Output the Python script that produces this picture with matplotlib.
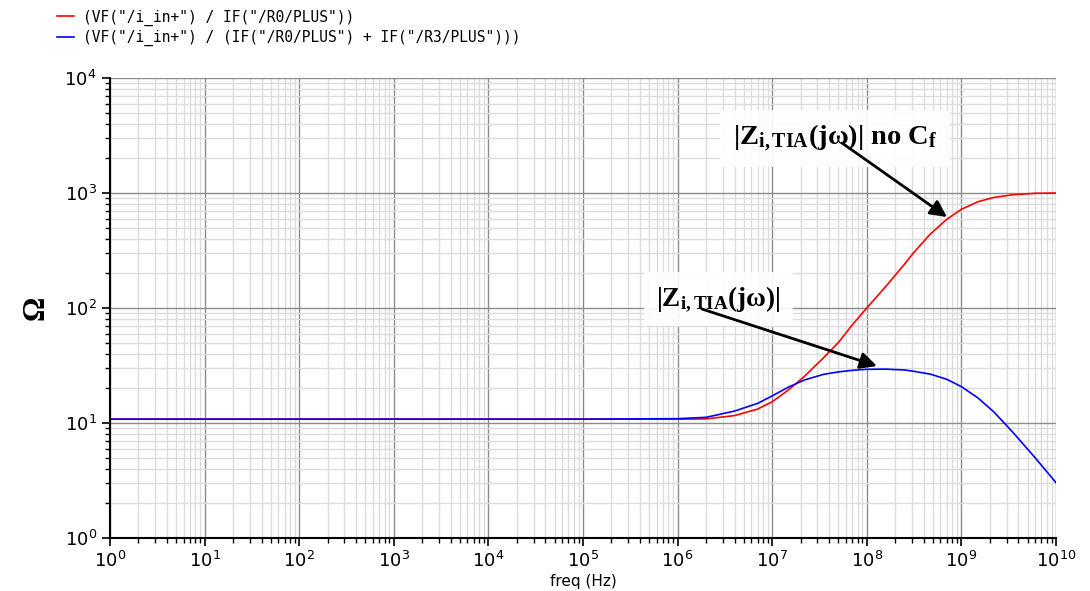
import numpy as np
import matplotlib
matplotlib.use("Agg")
import matplotlib.pyplot as plt

# serif bold for the curve annotations (used through math_fontfamily='custom')
plt.rcParams['mathtext.fontset'] = 'custom'
plt.rcParams['mathtext.rm'] = 'Liberation Serif'
plt.rcParams['mathtext.it'] = 'Liberation Serif:italic'
plt.rcParams['mathtext.bf'] = 'Liberation Serif:bold'

# AC sweep samples (Hz) and input impedance magnitudes (Ohm)
freq = [1e0, 1e5, 1e6, 2e6, 4e6, 7e6, 1e7, 1.5e7, 2.2e7, 3.5e7, 5e7, 7e7,
        1e8, 1.6e8, 2.5e8, 3.1e8, 4.7e8, 7e8, 1e9, 1.5e9, 2.2e9, 3.5e9, 6e9, 1e10]
z_no_cf = [10.8, 10.8, 10.8, 10.85, 11.6, 13.2, 15.3, 19.5, 25.5, 37, 50, 71,
           100, 155, 240, 300, 440, 590, 722, 840, 915, 966, 994, 1000]
z_tia = [10.8, 10.8, 10.9, 11.2, 12.7, 14.8, 17.2, 20.6, 23.7, 26.5, 27.8, 28.7,
         29.3, 29.4, 28.9, 28.2, 26.6, 24.0, 20.7, 16.5, 12.5, 8.3, 5.0, 3.03]

label_no_cf = '(VF("/i_in+") / IF("/R0/PLUS"))'
label_tia = '(VF("/i_in+") / (IF("/R0/PLUS") + IF("/R3/PLUS")))'

fig = plt.figure(figsize=(10.9, 5.91), dpi=100)
ax = fig.add_axes([0.1009, 0.0897, 0.8679, 0.7783])

ax.plot(freq, z_no_cf, color='#ff0000', linewidth=1.2, label=label_no_cf)
ax.plot(freq, z_tia, color='#0000ff', linewidth=1.2, label=label_tia)

ax.set_xscale('log')
ax.set_yscale('log')
ax.set_xlim(1e0, 1e10)
ax.set_ylim(1e0, 1e4)
ax.xaxis.set_major_locator(matplotlib.ticker.LogLocator(base=10, numticks=12))
ax.xaxis.set_minor_locator(matplotlib.ticker.LogLocator(base=10, subs=np.arange(2, 10), numticks=12))
ax.xaxis.set_minor_formatter(matplotlib.ticker.NullFormatter())
ax.yaxis.set_minor_formatter(matplotlib.ticker.NullFormatter())

ax.grid(True, which='major', color='#8c8c8c', linewidth=1.0)
ax.grid(True, which='minor', color='#dcdcdc', linewidth=1.0)
ax.set_axisbelow(True)

for side in ['top', 'right']:
    ax.spines[side].set_visible(False)
for side in ['left', 'bottom']:
    ax.spines[side].set_linewidth(1.5)

ax.tick_params(which='major', direction='out', length=6, width=1.2, labelsize=13)
ax.tick_params(which='minor', direction='out', length=3.5, width=1.0)

ax.set_xlabel('freq (Hz)', fontsize=11, labelpad=2)
ax.set_ylabel('Ω', fontfamily='Liberation Serif', fontweight='bold', fontsize=22, labelpad=10)

# curve labels with arrows
txt_box = dict(boxstyle='square,pad=0.45', facecolor='white', edgecolor='none', alpha=0.9)
ax.text(4.6e7, 3000, r'$\mathbf{|Z_{i,TIA}(jω)|\ no\ C_f}$', math_fontfamily='custom',
        fontsize=20.5, ha='center', va='center', bbox=txt_box, zorder=4)
ax.text(2.7e6, 120, r'$\mathbf{|Z_{i,TIA}(jω)|}$', math_fontfamily='custom',
        fontsize=19.5, ha='center', va='center', bbox=txt_box, zorder=4)

arrow = dict(arrowstyle='-|>', color='black', linewidth=2, mutation_scale=25, shrinkA=0, shrinkB=0)
ax.annotate('', xy=(7.05e8, 618), xytext=(5.47e7, 2722), arrowprops=arrow, zorder=5)
ax.annotate('', xy=(1.28e8, 31.3), xytext=(1.81e6, 98), arrowprops=arrow, zorder=5)

fig.legend(loc='upper left', bbox_to_anchor=(0.04, 1.006), frameon=False,
           prop={'family': 'DejaVu Sans Mono', 'size': 10.5},
           handlelength=1.2, handletextpad=0.6, labelspacing=0.3)

fig.savefig('out.png', dpi=100)
